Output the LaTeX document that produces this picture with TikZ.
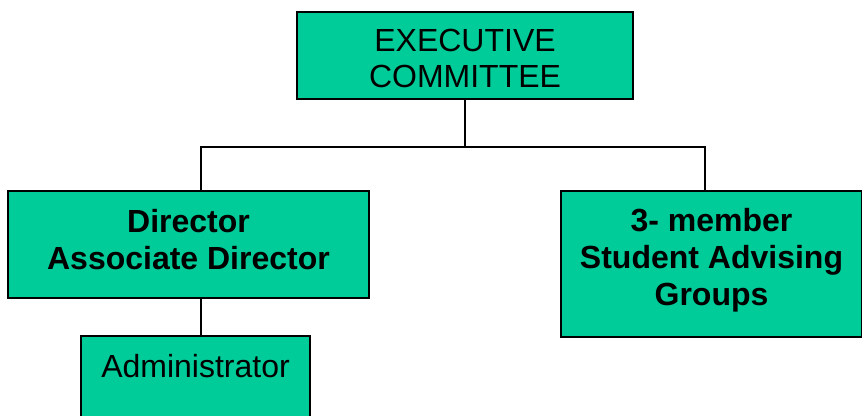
\documentclass[tikz,border=0pt]{standalone}
\usepackage{fontspec}
\setmainfont{Liberation Sans}
\usetikzlibrary{positioning}
\definecolor{orgteal}{RGB}{0,204,153}

\begin{document}
\begin{tikzpicture}[x=0.75pt,y=-0.75pt]

				\tikzstyle{every node}=[font=\fontsize{24pt}{27.5pt}\selectfont]
				\tikzstyle{orgbox}=[rectangle,draw=black,fill=orgteal,line width=1.1pt,inner sep=0pt,outer sep=0pt,align=center]
				\clip (0,0) rectangle (862,416);

				\node[orgbox, minimum width=252pt, text height=57pt, text depth=8.25pt, anchor=north] (executive) at (465,12) {EXECUTIVE\\COMMITTEE};
				\node[orgbox, minimum width=270.75pt, text height=58.5pt, text depth=21.75pt, anchor=north, font=\fontsize{24pt}{27.5pt}\selectfont\bfseries] (director) at (188.5,191) {Director\\Associate Director};
				\node[orgbox, minimum width=225.75pt, text height=85.5pt, text depth=24pt, anchor=north, font=\fontsize{24pt}{27.5pt}\selectfont\bfseries] (advising) at (711.5,191) {3- member\\Student Advising\\Groups};
				\node[orgbox, minimum width=171.75pt, text height=30.75pt, text depth=38.25pt, anchor=north] (administrator) at (195.5,336) {Administrator};

				\coordinate (fork) at (465,147);
				\draw[line width=1.1pt] (executive.south) -- (fork);
				\draw[line width=1.1pt] ([xshift=9.4pt]director.north) |- (fork) -| ([xshift=-4.9pt]advising.north);
				\draw[line width=1.1pt] ([xshift=9.4pt]director.south) -- ([xshift=9.4pt]director.south |- administrator.north);

\end{tikzpicture}
\end{document}
